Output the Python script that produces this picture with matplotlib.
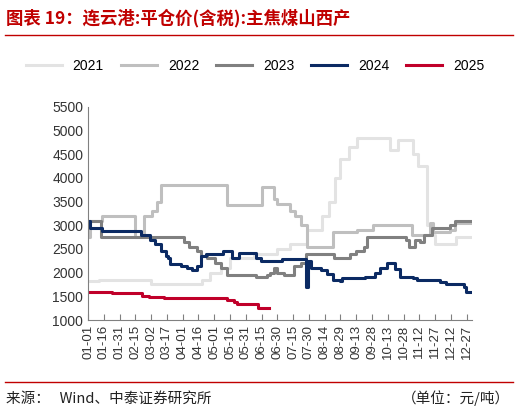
import matplotlib
matplotlib.use("Agg")
import matplotlib.pyplot as plt

plt.rcParams['font.family'] = ['Noto Sans CJK SC', 'DejaVu Sans']

# (day-of-year, value) step points
d2021 = [(0,1820),(10,1850),(59,1850),(60,1750),(107,1750),(108,1850),(116,2000),(126,2100),(135,2300),(158,2400),(180,2500),(192,2600),(208,2900),(221,2900),(222,3200),(229,3500),(235,4000),(240,4400),(248,4650),(256,4850),(286,4850),(287,4600),(294,4600),(295,4800),(304,4800),(309,4500),(314,4250),(320,4250),(322,3000),(327,2800),(330,2600),(347,2600),(350,2750),(365,2750)]
d2022 = [(0,2750),(2,3100),(13,3200),(44,3200),(45,2750),(50,2750),(53,3200),(61,3300),(66,3500),(69,3850),(131,3850),(132,3420),(164,3420),(165,3800),(173,3800),(177,3550),(180,3450),(189,3450),(192,3300),(197,3200),(202,3000),(208,2550),(230,2550),(233,2850),(252,2850),(256,2900),(265,2900),(271,3000),(306,3000),(308,2800),(322,2800),(325,3050),(328,2850),(341,2850),(344,2900),(349,3050),(365,3050)]
d2023 = [(0,3100),(10,3100),(12,2750),(88,2750),(91,2650),(96,2550),(102,2550),(104,2450),(107,2350),(113,2300),(121,2200),(126,2100),(132,1950),(158,1950),(160,1900),(169,1900),(170,1950),(173,2000),(177,2100),(180,2000),(186,1950),(193,1950),(196,2150),(202,2200),(207,2400),(233,2400),(234,2300),(246,2300),(249,2400),(255,2450),(262,2550),(265,2750),(300,2750),(302,2700),(305,2550),(310,2550),(311,2700),(316,2650),(319,2800),(327,2950),(341,2950),(344,3000),(349,3100),(365,3100)]
d2024 = [(0,3100),(2,2950),(12,2950),(13,2870),(47,2870),(50,2800),(59,2700),(64,2600),(69,2450),(74,2350),(76,2300),(78,2180),(88,2150),(94,2100),(99,2050),(104,2150),(107,2350),(112,2400),(127,2400),(128,2450),(135,2450),(137,2300),(143,2300),(144,2420),(158,2420),(160,2300),(164,2250),(183,2250),(184,2280),(205,2280),(207,1700),(209,2250),(212,2100),(221,2050),(227,1980),(233,1850),(240,1820),(241,1880),(262,1880),(263,1900),(268,1900),(273,2000),(278,2100),(284,2200),(290,2200),(292,2080),(297,1900),(309,1880),(313,1850),(332,1850),(335,1800),(340,1750),(354,1750),(357,1700),(359,1600),(365,1600)]
d2025 = [(0,1600),(21,1600),(23,1570),(48,1570),(51,1500),(58,1480),(69,1480),(72,1460),(127,1460),(132,1430),(139,1380),(142,1340),(161,1340),(162,1260),(172,1260)]

series = [("2021", d2021, "#e3e3e3"), ("2022", d2022, "#bfbfbf"),
          ("2023", d2023, "#808080"), ("2024", d2024, "#0b2a63"),
          ("2025", d2025, "#c0002a")]
tick_labels = ["01-01","01-16","01-31","02-15","03-02","03-17","04-01","04-16","05-01","05-16","05-31","06-15","06-30","07-15","07-30","08-14","08-29","09-13","09-28","10-13","10-28","11-12","11-27","12-12","12-27"]

fig = plt.figure(figsize=(5.18, 4.13), dpi=100)
ax = fig.add_axes([88/518, 1-320/413, 384/518, 213/413])
for name, d, c in series:
    xs = [p[0] for p in d]; ys = [p[1] for p in d]
    ax.plot(xs, ys, color=c, lw=2.2, label=name, drawstyle='steps-post')
ax.set_xlim(0, 365)
ax.set_ylim(1000, 5500)
ax.set_yticks(range(1000, 5501, 500))
ax.set_xticks([i*15 for i in range(len(tick_labels))])
ax.set_xticklabels(tick_labels, rotation=90, fontsize=9.5, family=['Liberation Sans','DejaVu Sans'])
for lab in ax.get_yticklabels():
    lab.set_fontsize(10); lab.set_family(['Liberation Sans','DejaVu Sans'])
for s in ['top','right']:
    ax.spines[s].set_visible(False)
for s in ['left','bottom']:
    ax.spines[s].set_color('#808080')
ax.tick_params(axis='y', length=0, colors='#333333')
ax.tick_params(axis='x', length=4, direction='in', color='#808080', colors='#333333')
ax.legend(loc='lower center', bbox_to_anchor=(0.435, 1.1), ncol=5, frameon=False,
          handlelength=2.6, columnspacing=1.2,
          prop={'family': ['Liberation Sans','DejaVu Sans'], 'size': 10})
fig.text(0.012, 0.955, "图表 19：连云港:平仓价(含税):主焦煤山西产", color='#c00000',
         fontsize=12.5, fontweight='bold', style='italic', va='center')
fig.add_artist(plt.Line2D([0.01, 0.99], [0.915, 0.915], color='#c00000', lw=1))
fig.add_artist(plt.Line2D([0.01, 0.99], [0.075, 0.075], color='#c00000', lw=1))
fig.text(0.012, 0.035, "来源：   Wind、中泰证券研究所", fontsize=10.5, va='center', color='#222222')
fig.text(0.985, 0.035, "（单位：元/吨）", fontsize=10.5, va='center', ha='right', color='#222222')
fig.savefig("out.png", dpi=100)
